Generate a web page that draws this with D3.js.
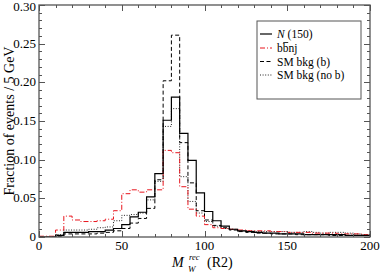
<!DOCTYPE html>
<html>
<head>
<meta charset="utf-8">
<script src="https://d3js.org/d3.v7.min.js"></script>
<style>
  body { margin: 0; background: #fff; }
  svg { font-family: "Liberation Serif", "DejaVu Serif", serif; }
</style>
</head>
<body>
<div id="chart"></div>
<script>
  // histogram bins: 5 GeV wide, starting at 0
  var binWidth = 5;
  var signalN150 = [0, 0, 0.002, 0.006, 0.006, 0.006, 0.007, 0.007, 0.009, 0.011,
    0.016, 0.026, 0.032, 0.052, 0.082, 0.151, 0.181, 0.134, 0.099, 0.057,
    0.033, 0.021, 0.014, 0.010, 0.008, 0.007, 0.006, 0.005, 0.005, 0.004,
    0.004, 0.004, 0.003, 0.003, 0.003, 0.003, 0.003, 0.002, 0.002, 0.002];
  var bbnj = [0.001, 0.001, 0.009, 0.027, 0.022, 0.020, 0.020, 0.021, 0.023, 0.034,
    0.056, 0.061, 0.058, 0.061, 0.061, 0.112, 0.109, 0.065, 0.036, 0.027,
    0.016, 0.012, 0.011, 0.010, 0.009, 0.008, 0.008, 0.008, 0.007, 0.007,
    0.006, 0.006, 0.006, 0.005, 0.005, 0.005, 0.004, 0.004, 0.004, 0.003];
  var smBkgB = [0, 0, 0.001, 0.004, 0.004, 0.004, 0.004, 0.005, 0.006, 0.008,
    0.011, 0.018, 0.024, 0.037, 0.074, 0.202, 0.261, 0.122, 0.070, 0.034,
    0.022, 0.015, 0.012, 0.009, 0.007, 0.006, 0.005, 0.005, 0.004, 0.004,
    0.004, 0.003, 0.003, 0.003, 0.003, 0.002, 0.002, 0.002, 0.002, 0.002];
  var smBkgNoB = [0, 0, 0.003, 0.009, 0.009, 0.009, 0.010, 0.012, 0.013, 0.021,
    0.028, 0.029, 0.031, 0.048, 0.072, 0.143, 0.166, 0.078, 0.046, 0.031,
    0.020, 0.014, 0.011, 0.010, 0.008, 0.008, 0.007, 0.007, 0.007, 0.007,
    0.006, 0.006, 0.007, 0.006, 0.005, 0.006, 0.006, 0.005, 0.004, 0.003];

  var xTicks = [0, 50, 100, 150, 200];
  var yTicks = [0, 0.05, 0.10, 0.15, 0.20, 0.25, 0.30];
  var yTickLabels = ["0", "0.05", "0.10", "0.15", "0.20", "0.25", "0.30"];

  var series = [
    { name: "N", values: signalN150, color: "#000", dash: null, width: 1.2 },
    { name: "bbnj", values: bbnj, color: "#e8141c", dash: "5,2,1,2", width: 1 },
    { name: "SM bkg (b)", values: smBkgB, color: "#000", dash: "4,2.5", width: 1 },
    { name: "SM bkg (no b)", values: smBkgNoB, color: "#222", dash: "1,1.6", width: 1 }
  ];

  var W = 380, H = 273;
  var margin = { left: 39, right: 10, top: 5, bottom: 36 };

  var svg = d3.select("#chart").append("svg")
    .attr("width", W).attr("height", H);

  var x = d3.scaleLinear().domain([0, 200]).range([margin.left, W - margin.right]);
  var y = d3.scaleLinear().domain([0, 0.30]).range([H - margin.bottom, margin.top]);

  svg.append("clipPath").attr("id", "plotclip")
    .append("rect")
    .attr("x", x(0)).attr("y", y(0.30))
    .attr("width", x(200) - x(0)).attr("height", y(0) - y(0.30));

  // histograms
  var line = d3.line()
    .x(d => x(d[0]))
    .y(d => y(d[1]))
    .curve(d3.curveStepAfter);

  var plot = svg.append("g").attr("clip-path", "url(#plotclip)");
  series.slice().reverse().forEach(s => {
    var pts = s.values.map((v, i) => [i * binWidth, v]);
    pts.push([s.values.length * binWidth, s.values[s.values.length - 1]]);
    plot.append("path")
      .attr("d", line(pts))
      .attr("fill", "none")
      .attr("stroke", s.color)
      .attr("stroke-width", s.width)
      .attr("stroke-dasharray", s.dash);
  });

  // ticks (inward, all four sides)
  var axisColor = "#555";
  var ticksG = svg.append("g").attr("stroke", axisColor).attr("stroke-width", 1);
  d3.range(0, 201, 10).forEach(v => {
    var len = v % 50 === 0 ? 6 : 3;
    var px = Math.round(x(v)) + 0.5;
    ticksG.append("line").attr("x1", px).attr("x2", px).attr("y1", y(0)).attr("y2", y(0) - len);
    ticksG.append("line").attr("x1", px).attr("x2", px).attr("y1", y(0.30)).attr("y2", y(0.30) + len);
  });
  d3.range(0, 31, 1).forEach(k => {
    var v = k / 100;
    var len = k % 5 === 0 ? 6 : 3;
    var py = Math.round(y(v)) + 0.5;
    ticksG.append("line").attr("x1", x(0)).attr("x2", x(0) + len).attr("y1", py).attr("y2", py);
    ticksG.append("line").attr("x1", x(200)).attr("x2", x(200) - len).attr("y1", py).attr("y2", py);
  });

  svg.append("rect")
    .attr("x", x(0)).attr("y", y(0.30))
    .attr("width", x(200) - x(0)).attr("height", y(0) - y(0.30))
    .attr("fill", "none").attr("stroke", axisColor).attr("stroke-width", 1.3);

  // tick labels
  svg.append("g").selectAll("text").data(xTicks).join("text")
    .attr("x", d => x(d)).attr("y", y(0) + 12.5)
    .attr("text-anchor", "middle")
    .attr("font-size", 13)
    .text(d => d);

  svg.append("g").selectAll("text").data(yTicks).join("text")
    .attr("x", x(0) - 3).attr("y", d => Math.max(y(d) + 4, 11))
    .attr("text-anchor", "end")
    .attr("font-size", 13)
    .text((d, i) => yTickLabels[i]);

  // axis titles
  svg.append("text")
    .attr("transform", "translate(14," + ((y(0) + y(0.30)) / 2) + ") rotate(-90)")
    .attr("text-anchor", "middle")
    .attr("font-size", 14)
    .text("Fraction of events / 5 GeV");

  var xl = svg.append("g").attr("font-size", 14);
  xl.append("text").attr("x", 172).attr("y", 267).attr("font-style", "italic").text("M");
  xl.append("text").attr("x", 189).attr("y", 259.5).attr("font-style", "italic").attr("font-size", 8.5).text("rec");
  xl.append("text").attr("x", 188).attr("y", 272).attr("font-style", "italic").attr("font-size", 9).text("W");
  xl.append("text").attr("x", 207).attr("y", 267).text("(R2)");

  // legend
  var lg = svg.append("g");
  lg.append("rect")
    .attr("x", 257).attr("y", 21).attr("width", 104).attr("height", 78)
    .attr("fill", "#fff").attr("stroke", axisColor).attr("stroke-width", 1);
  var rowY = [34, 48, 61.5, 75];
  series.forEach((s, i) => {
    lg.append("line")
      .attr("x1", 260).attr("x2", 272)
      .attr("y1", rowY[i]).attr("y2", rowY[i])
      .attr("stroke", s.color).attr("stroke-width", s.width)
      .attr("stroke-dasharray", s.dash);
    var t = lg.append("text").attr("x", 277).attr("y", rowY[i] + 4).attr("font-size", 11.5);
    if (i === 0) {
      t.append("tspan").attr("font-style", "italic").text("N");
      t.append("tspan").text(" (150)");
    } else if (i === 1) {
      t.text("bbnj");
      // bar over the second b
      var n = t.node();
      var x0 = 277 + n.getSubStringLength(0, 1);
      var bw = n.getSubStringLength(1, 1);
      lg.append("line")
        .attr("x1", x0 + 0.5).attr("x2", x0 + bw - 0.3)
        .attr("y1", rowY[i] - 5.5).attr("y2", rowY[i] - 5.5)
        .attr("stroke", "#000").attr("stroke-width", 0.8);
    } else {
      t.text(s.name);
    }
  });
</script>
</body>
</html>
